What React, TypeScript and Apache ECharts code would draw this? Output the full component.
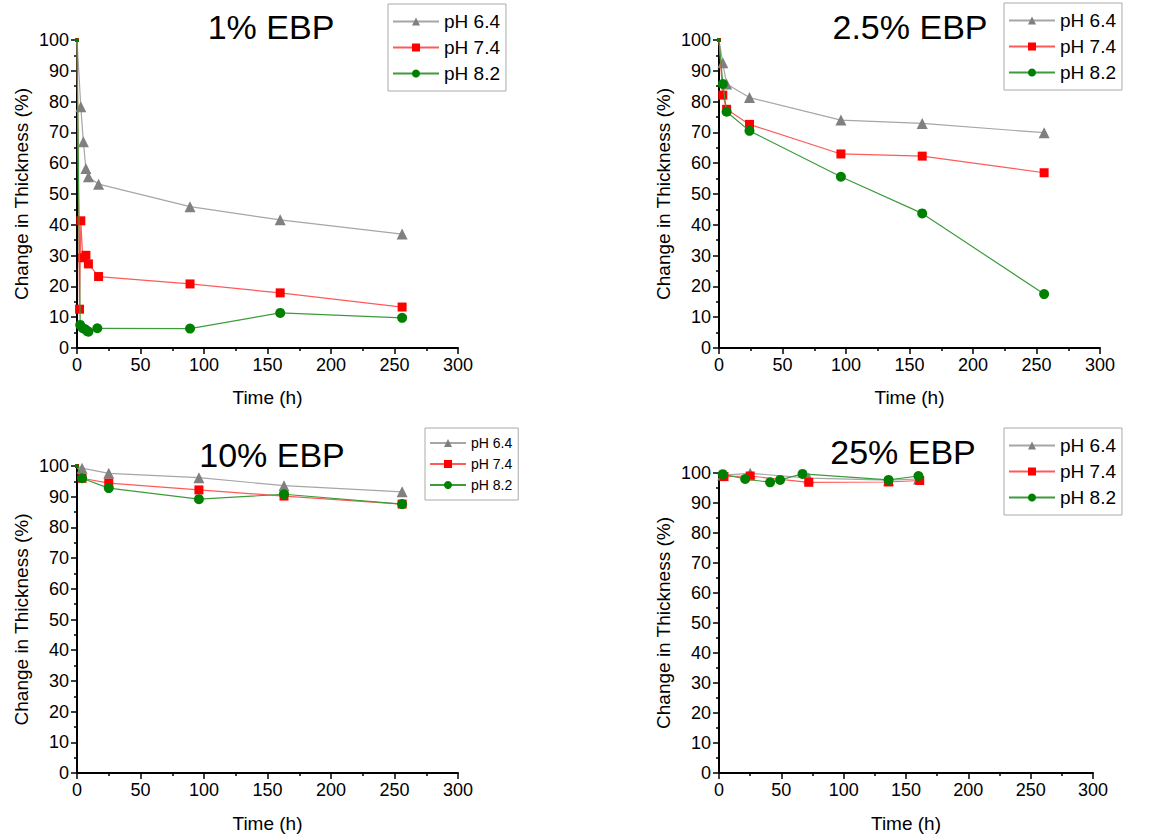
import React, { useEffect, useRef } from "react";
import * as echarts from "echarts";

const seriesNames = ["pH 6.4", "pH 7.4", "pH 8.2"];
const panelTitles = ["1% EBP", "2.5% EBP", "10% EBP", "25% EBP"];
const xTicks = [0, 50, 100, 150, 200, 250, 300];
const yTicks = [0, 10, 20, 30, 40, 50, 60, 70, 80, 90, 100];

// 1% EBP
const p1_t64 = [0, 3, 5, 7, 9, 17, 89, 160, 256];
const p1_v64 = [100, 78.3, 67, 58.3, 55.6, 53.2, 45.9, 41.6, 37];
const p1_t74 = [0, 2, 3, 4.5, 7, 9, 17, 89, 160, 256];
const p1_v74 = [100, 12.6, 41.3, 29.3, 30.1, 27.3, 23.2, 20.8, 17.9, 13.3];
const p1_t82 = [0, 2.5, 4.5, 6.5, 8, 9, 16, 89, 160, 256];
const p1_v82 = [100, 7.5, 6.4, 6.1, 5.5, 5.3, 6.4, 6.3, 11.4, 9.8];

// 2.5% EBP
const p2_t = [0, 3, 6, 24, 96, 160, 256];
const p2_v64 = [100, 92.6, 85.7, 81.3, 74, 72.9, 69.9];
const p2_v74 = [100, 82.1, 77.5, 72.6, 63, 62.3, 56.9];
const p2_v82 = [100, 85.7, 76.7, 70.5, 55.6, 43.7, 17.5];

// 10% EBP
const p3_t = [0, 4, 25, 96, 163, 256];
const p3_v64 = [100, 99.3, 97.6, 96.2, 93.6, 91.6];
const p3_v74 = [100, 96, 94.4, 92.2, 90.2, 87.6];
const p3_v82 = [100, 96, 92.8, 89.2, 90.8, 87.6];

// 25% EBP
const p4_t64 = [3, 25, 72, 136, 160];
const p4_v64 = [99.3, 99.9, 98.3, 97.6, 98];
const p4_t74 = [4, 25, 72, 136, 161];
const p4_v74 = [98.8, 99, 96.9, 97, 97.5];
const p4_t82 = [3, 21, 41, 49, 67, 136, 160];
const p4_v82 = [99.6, 98, 96.9, 97.7, 99.7, 97.7, 99];

const FONT = "Arial, 'Liberation Sans', sans-serif";

const styles = [
  { line: "#a6a6a6", marker: "#808080", symbol: "triangle", size: 11 },
  { line: "#ff5a5a", marker: "#ff0000", symbol: "rect", size: 9 },
  { line: "#3c9c3c", marker: "#008000", symbol: "circle", size: 10 },
];

// points sitting on the axis corner are clipped in the original, draw them small
const zip = (t: number[], v: number[]) =>
  t.map((x, i) => (x === 0 ? { value: [x, v[i]], symbolSize: 4 } : [x, v[i]]));

const grids = [
  { left: 77, top: 40, width: 381, height: 308 },
  { left: 719, top: 40, width: 381, height: 308 },
  { left: 77, top: 466, width: 381, height: 307 },
  { left: 719, top: 473, width: 374, height: 300 },
];

const titlePos = [
  [271, 27],
  [910, 27],
  [272, 455],
  [903, 452],
];

const legendCfg = [
  { left: 388, top: 4, font: 19, itemWidth: 46, gap: 7 },
  { left: 1004, top: 3, font: 19, itemWidth: 46, gap: 7 },
  { left: 425, top: 428, font: 14, itemWidth: 36, gap: 7 },
  { left: 1004, top: 428, font: 19, itemWidth: 46, gap: 7 },
];

export default function App() {
  const ref = useRef<HTMLDivElement>(null);
  useEffect(() => {
    document.body.style.margin = "0";
    const chart = echarts.init(ref.current!, null, { renderer: "svg" });
    const panelData = [
      [zip(p1_t64, p1_v64), zip(p1_t74, p1_v74), zip(p1_t82, p1_v82)],
      [zip(p2_t, p2_v64), zip(p2_t, p2_v74), zip(p2_t, p2_v82)],
      [zip(p3_t, p3_v64), zip(p3_t, p3_v74), zip(p3_t, p3_v82)],
      [zip(p4_t64, p4_v64), zip(p4_t74, p4_v74), zip(p4_t82, p4_v82)],
    ];
    const axisCommon = {
      axisLine: { show: true, onZero: false, lineStyle: { color: "#000", width: 2 } },
      axisTick: { show: true, inside: false, length: 6, lineStyle: { color: "#000", width: 1.5 } },
      minorTick: { show: true, splitNumber: 2, length: 3, lineStyle: { color: "#000", width: 1.5 } },
      splitLine: { show: false },
      axisLabel: { color: "#000", fontSize: 18, fontFamily: FONT },
      nameTextStyle: { color: "#000", fontSize: 19, fontFamily: FONT },
    };
    const xAxis = grids.map((_, i) => ({
      ...axisCommon,
      type: "value",
      gridIndex: i,
      min: xTicks[0],
      max: xTicks[xTicks.length - 1],
      interval: 50,
      name: "Time (h)",
      nameLocation: "middle",
      nameGap: i < 2 ? 40 : 41,
    }));
    const yAxis = grids.map((_, i) => ({
      ...axisCommon,
      type: "value",
      gridIndex: i,
      min: yTicks[0],
      max: yTicks[yTicks.length - 1],
      interval: 10,
      name: "Change in Thickness (%)",
      nameLocation: "middle",
      nameGap: 46,
    }));
    const series: any[] = [];
    panelData.forEach((pd, pi) => {
      pd.forEach((d, si) => {
        const s = styles[si];
        series.push({
          type: "line",
          name: seriesNames[si],
          xAxisIndex: pi,
          yAxisIndex: pi,
          data: d,
          symbol: s.symbol,
          symbolSize: s.size,
          showAllSymbol: true,
          lineStyle: { color: s.line, width: 1.2 },
          itemStyle: { color: s.marker },
          z: 2 + si,
        });
      });
    });
    const legend = legendCfg.map((l) => ({
      data: seriesNames,
      orient: "vertical",
      left: l.left,
      top: l.top,
      itemWidth: l.itemWidth,
      itemHeight: 10,
      itemGap: l.gap,
      padding: [8, 6, 8, 4],
      borderColor: "#aaa",
      borderWidth: 1,
      selectedMode: false,
      textStyle: { color: "#000", fontSize: l.font, fontFamily: FONT },
    }));
    const graphic = panelTitles.map((t, i) => ({
      type: "text",
      x: titlePos[i][0],
      y: titlePos[i][1],
      style: {
        text: t,
        fontSize: 34,
        fontFamily: FONT,
        fill: "#000",
        align: "center",
        verticalAlign: "middle",
      },
    }));
    chart.setOption({
      animation: false,
      backgroundColor: "#fff",
      grid: grids,
      xAxis,
      yAxis,
      series,
      legend,
      graphic,
    });
    return () => chart.dispose();
  }, []);
  return <div ref={ref} style={{ width: 1149, height: 840 }} />;
}
